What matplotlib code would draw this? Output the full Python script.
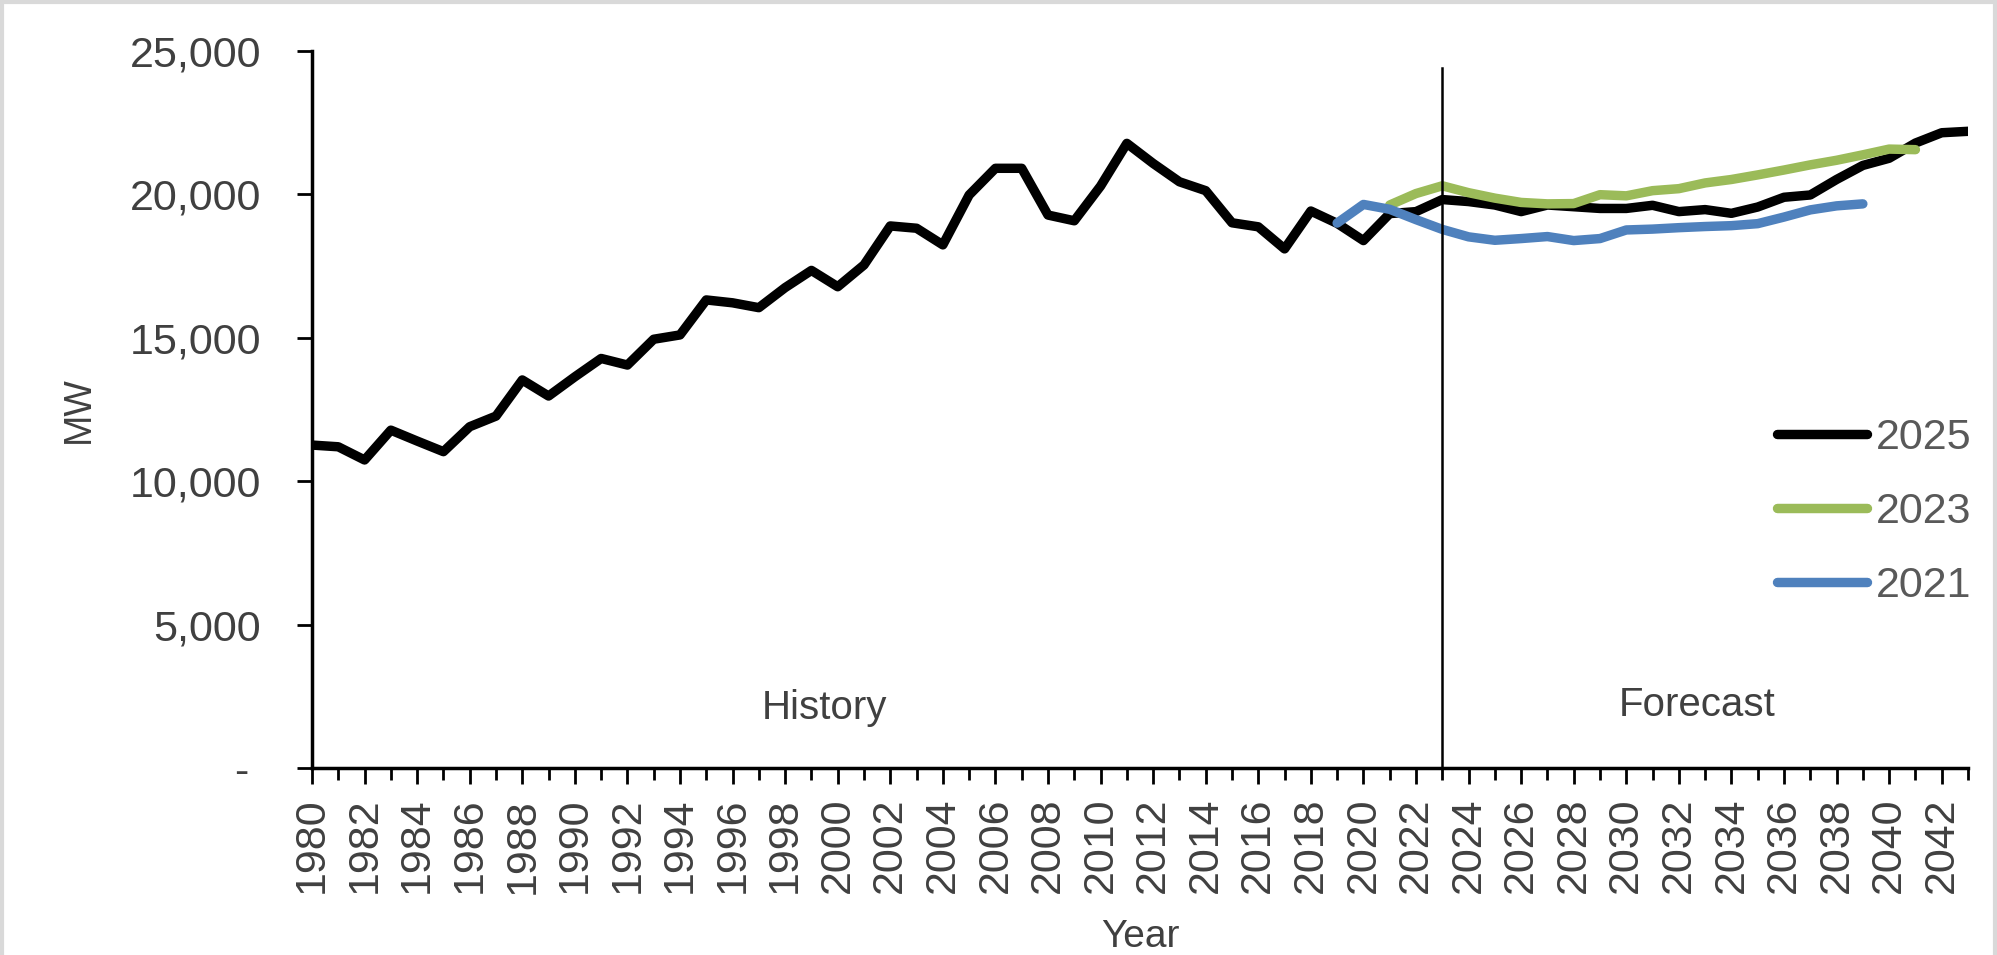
import matplotlib
matplotlib.use("Agg")
import matplotlib.pyplot as plt
from matplotlib.ticker import MultipleLocator, FuncFormatter
from matplotlib.lines import Line2D

plt.rcParams['font.family'] = ['Liberation Sans', 'DejaVu Sans']

# 2025 forecast (history + forecast), MW
years_2025 = list(range(1980, 2044))
mw_2025 = [11260, 11200, 10740, 11780, 11400, 11030, 11900, 12270, 13530, 12970,
           13640, 14280, 14050, 14950, 15100, 16320, 16220, 16050, 16750, 17350,
           16780, 17540, 18900, 18820, 18240, 19980, 20910, 20910, 19280, 19080,
           20290, 21780, 21080, 20440, 20130, 19010, 18870, 18100, 19420, 18990,
           18390, 19330, 19400, 19820, 19750, 19630, 19400, 19630, 19570, 19510,
           19510, 19620, 19400, 19470, 19340, 19560, 19900, 19980, 20520, 21010,
           21260, 21790, 22150, 22200]

# 2023 forecast
years_2023 = list(range(2021, 2042))
mw_2023 = [19630, 20030, 20300, 20060, 19870, 19720, 19670, 19680, 19990, 19950,
           20130, 20200, 20400, 20520, 20680, 20850, 21030, 21190, 21380, 21580,
           21560]

# 2021 forecast
years_2021 = list(range(2019, 2040))
mw_2021 = [19000, 19650, 19480, 19120, 18780, 18520, 18400, 18460, 18530, 18390,
           18460, 18760, 18790, 18840, 18880, 18910, 18980, 19210, 19460, 19600,
           19670]

split_year = 2023
text_col = '#404040'

fig = plt.figure(figsize=(19.97, 9.55), dpi=100)
ax = fig.add_axes([312 / 1997, 187 / 955, 1656 / 1997, 717 / 955])

lw = 6.8
ax.plot(years_2025, mw_2025, color='black', lw=lw, label='2025',
        solid_capstyle='round', solid_joinstyle='round')
ax.plot(years_2023, mw_2023, color='#9BBB59', lw=lw, label='2023',
        solid_capstyle='round', solid_joinstyle='round')
ax.plot(years_2021, mw_2021, color='#4F81BD', lw=lw, label='2021',
        solid_capstyle='round', solid_joinstyle='round')

# history / forecast divider
ax.axvline(split_year, ymin=0, ymax=0.976, color='black', lw=1.8)
ax.text(1999.5, 1700, 'History', ha='center', va='baseline', fontsize=29, color=text_col)
ax.text(2032.7, 1800, 'Forecast', ha='center', va='baseline', fontsize=29, color=text_col)

ax.set_xlim(1980, 2043)
ax.set_ylim(0, 25000)

for s in ['top', 'right']:
    ax.spines[s].set_visible(False)
for s in ['left', 'bottom']:
    ax.spines[s].set_linewidth(2.5)

ax.xaxis.set_major_locator(MultipleLocator(2))
ax.xaxis.set_minor_locator(MultipleLocator(1))
ax.yaxis.set_major_locator(MultipleLocator(5000))
ax.yaxis.set_major_formatter(FuncFormatter(lambda v, p: '- ' if v == 0 else f'{int(v):,}'))

ax.tick_params(axis='y', which='major', direction='out', length=10.8, width=2,
               pad=26, labelsize=31, labelcolor=text_col)
ax.tick_params(axis='x', which='major', direction='out', length=11.5, width=2,
               pad=10, labelsize=31, labelcolor=text_col, labelrotation=90)
ax.tick_params(axis='x', which='minor', direction='out', length=8.4, width=2)

ax.set_xlabel('Year', fontsize=28, color=text_col, va='top')
ax.xaxis.set_label_coords(0.5, -0.211)
ax.set_ylabel('MW', fontsize=27, color=text_col, va='center')
ax.yaxis.set_label_coords((79 - 312) / 1656, 0.5)

leg = fig.legend(loc='center left', bbox_to_anchor=(1777 / 1997, 443 / 955),
                 frameon=False, fontsize=31, handlelength=2.1, handletextpad=0.2,
                 labelspacing=0.78, borderpad=0, borderaxespad=0)
for t in leg.get_texts():
    t.set_color('#595959')

# light grey frame around the picture
fig.add_artist(Line2D([0, 1], [0.998, 0.998], transform=fig.transFigure, color='#d9d9d9', lw=3))
fig.add_artist(Line2D([0.001, 0.001], [0, 1], transform=fig.transFigure, color='#d9d9d9', lw=3))
fig.add_artist(Line2D([0.999, 0.999], [0, 1], transform=fig.transFigure, color='#d9d9d9', lw=3))

fig.savefig('out.png', dpi=100)
